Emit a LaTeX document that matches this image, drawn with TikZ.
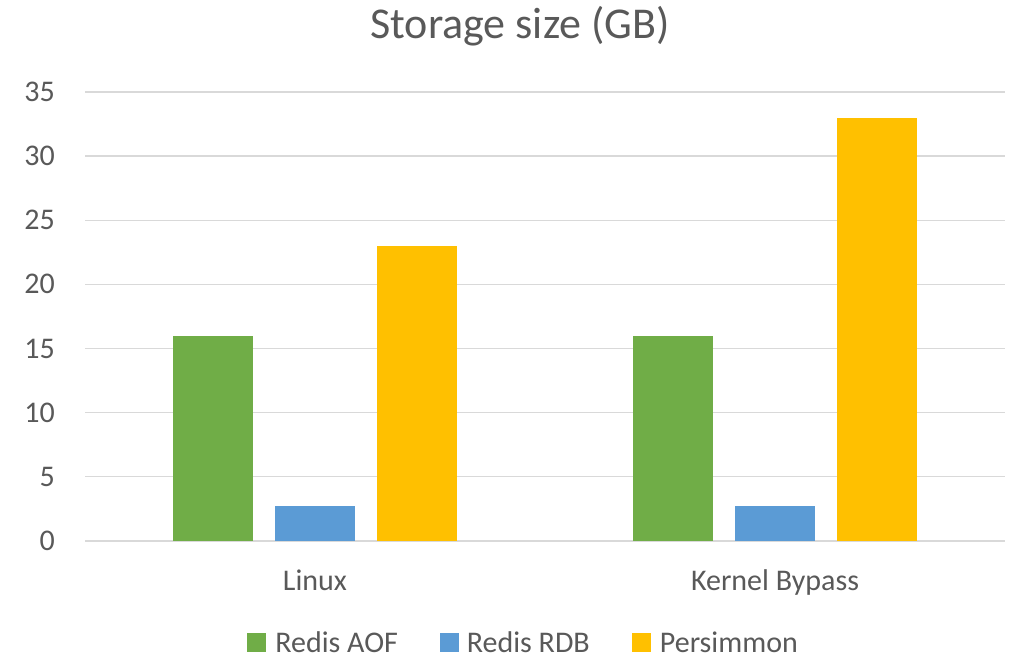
\documentclass[tikz,border=0pt]{standalone}
\usepackage{fontspec}
\setmainfont{Carlito}
\usetikzlibrary{positioning}
\definecolor{aofgreen}{HTML}{70AD47}
\definecolor{rdbblue}{HTML}{5B9BD5}
\definecolor{persyellow}{HTML}{FFC000}
\definecolor{gridgray}{HTML}{D9D9D9}
\definecolor{textgray}{HTML}{595959}

\begin{document}
\begin{tikzpicture}[x=1pt,y=1pt,
  lbl/.style={text=textgray,font=\fontsize{30}{30}\selectfont,inner sep=0pt},
  key/.style={minimum size=19pt,inner sep=0pt}]
  \useasboundingbox (0,0) rectangle (1013,658);
  % Title
  \node[lbl,anchor=base,font=\fontsize{44}{44}\selectfont] (title) at (520,619) {Storage size (GB)};
  % Grid lines and ticks
  \foreach \v in {0,5,...,35} {
    \draw[gridgray,line width=1.3pt] (85,117+12.83*\v) -- (1005,117+12.83*\v);
    \node[lbl,anchor=base east] (tick\v) at (55,107.5+12.83*\v) {\v};
  }
  % Bars (AOF, RDB, Persimmon)
  \foreach \c/\g/\b/\p/\name in {315/16/2.7/23/Linux, 775/16/2.7/33/Kernel Bypass} {
    \fill[aofgreen] (\c-142,117) rectangle (\c-62,117+12.83*\g);
    \fill[rdbblue] (\c-40,117) rectangle (\c+40,117+12.83*\b);
    \fill[persyellow] (\c+62,117) rectangle (\c+142,117+12.83*\p);
    \node[lbl,anchor=base] (cat\c) at (\c,67) {\name};
  }
  % Legend
  \node[key,fill=aofgreen] (keyaof) at (256.5,15.5) {};
  \node[lbl,right=9pt of keyaof.south east,anchor=base west] (txtaof) {Redis AOF};
  \node[key,fill=rdbblue] (keyrdb) at (449,15.5) {};
  \node[lbl,right=8pt of keyrdb.south east,anchor=base west] (txtrdb) {Redis RDB};
  \node[key,fill=persyellow] (keypers) at (641,15.5) {};
  \node[lbl,right=9pt of keypers.south east,anchor=base west] (txtpers) {Persimmon};
\end{tikzpicture}
\end{document}
